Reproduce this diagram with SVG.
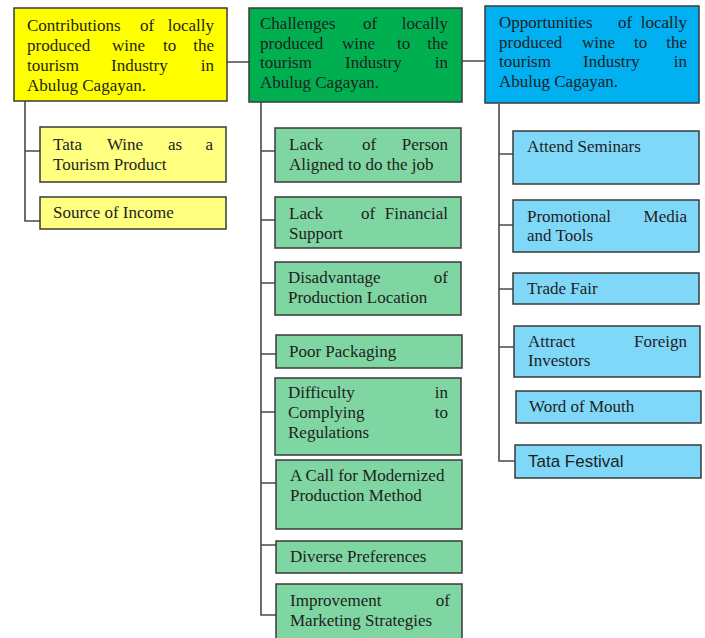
<svg xmlns="http://www.w3.org/2000/svg" width="705" height="638" viewBox="0 0 705 638">
<style>
text{font-family:"Liberation Serif","Times New Roman",serif;font-size:17px;fill:#1e1e1e}
.e{text-anchor:end}
.sans{font-family:"Liberation Sans",Arial,sans-serif}
rect{stroke:#3a3a3a;stroke-width:1.5}
.yh{fill:#FFFF00}.yc{fill:#FFFF80}
.gh{fill:#00B050}.gc{fill:#7FD6A2}
.bh{fill:#00B0F0}.bc{fill:#80D8F8}
#connectors path{fill:none;stroke:#4a4a4a;stroke-width:1.6}
</style>
<rect width="705" height="638" fill="#fff" style="stroke:none"/>
<g id="connectors">
<path d="M227 62H249M462 61H485"/>
<path d="M25 101V221H40M25 151H40"/>
<path d="M261 102V615H276M261 151H275M261 220H275M261 283H275M261 354H276M261 412H276M261 483H276M261 545H276"/>
<path d="M499 104V461H515M499 154H513M499 225H513M499 289H513M499 347H514"/>
</g>
<g id="h1"><rect class="yh" x="14" y="8" width="213" height="93"/>
<text x="27" y="31">Contributions</text><text x="140" y="31">of</text><text class="e" x="214" y="31">locally</text>
<text x="27" y="51">produced</text><text x="112" y="51">wine</text><text x="163" y="51">to</text><text class="e" x="214" y="51">the</text>
<text x="27" y="71">tourism</text><text x="111" y="71">Industry</text><text class="e" x="214" y="71">in</text>
<text x="27" y="91">Abulug Cagayan.</text></g>
<g id="h2"><rect class="gh" x="249" y="8" width="213" height="94"/>
<text x="260" y="29">Challenges</text><text x="363" y="29">of</text><text class="e" x="448" y="29">locally</text>
<text x="260" y="49">produced</text><text x="342" y="49">wine</text><text x="397" y="49">to</text><text class="e" x="448" y="49">the</text>
<text x="260" y="68">tourism</text><text x="345" y="68">Industry</text><text class="e" x="448" y="68">in</text>
<text x="260" y="88">Abulug Cagayan.</text></g>
<g id="h3"><rect class="bh" x="485" y="6" width="214" height="97"/>
<text x="499" y="28">Opportunities</text><text x="618" y="28">of</text><text class="e" x="687" y="28">locally</text>
<text x="499" y="48">produced</text><text x="582" y="48">wine</text><text x="634" y="48">to</text><text class="e" x="687" y="48">the</text>
<text x="499" y="67">tourism</text><text x="583" y="67">Industry</text><text class="e" x="687" y="67">in</text>
<text x="499" y="87">Abulug Cagayan.</text></g>
<g id="c1"><rect class="yc" x="40" y="127" width="186" height="55"/>
<text x="53" y="150">Tata</text><text x="107" y="150">Wine</text><text x="168" y="150">as</text><text class="e" x="213" y="150">a</text>
<text x="53" y="170">Tourism Product</text></g>
<g id="c2"><rect class="yc" x="40" y="197" width="186" height="32"/>
<text x="53" y="218">Source of Income</text></g>
<g id="g1"><rect class="gc" x="275" y="128" width="186" height="54"/>
<text x="289" y="150">Lack</text><text x="362" y="150">of</text><text class="e" x="448" y="150">Person</text>
<text x="289" y="170">Aligned to do the job</text></g>
<g id="g2"><rect class="gc" x="275" y="197" width="186" height="51"/>
<text x="289" y="219">Lack</text><text x="361" y="219">of</text><text class="e" x="448" y="219">Financial</text>
<text x="289" y="239">Support</text></g>
<g id="g3"><rect class="gc" x="275" y="262" width="186" height="53"/>
<text x="288" y="283">Disadvantage</text><text class="e" x="448" y="283">of</text>
<text x="288" y="303">Production Location</text></g>
<g id="g4"><rect class="gc" x="276" y="335" width="186" height="33"/>
<text x="289" y="357">Poor Packaging</text></g>
<g id="g5"><rect class="gc" x="275" y="378" width="186" height="77"/>
<text x="288" y="398">Difficulty</text><text class="e" x="448" y="398">in</text>
<text x="288" y="418">Complying</text><text class="e" x="448" y="418">to</text>
<text x="288" y="438">Regulations</text></g>
<g id="g6"><rect class="gc" x="276" y="460" width="186" height="69"/>
<text x="290" y="481">A Call for Modernized</text>
<text x="290" y="501">Production Method</text></g>
<g id="g7"><rect class="gc" x="276" y="541" width="186" height="32"/>
<text x="290" y="562">Diverse Preferences</text></g>
<g id="g8"><rect class="gc" x="276" y="584" width="186" height="60"/>
<text x="290" y="606">Improvement</text><text class="e" x="450" y="606">of</text>
<text x="290" y="626">Marketing Strategies</text></g>
<g id="b1"><rect class="bc" x="513" y="131" width="186" height="53"/>
<text x="527" y="152">Attend Seminars</text></g>
<g id="b2"><rect class="bc" x="513" y="200" width="186" height="52"/>
<text x="527" y="222">Promotional</text><text class="e" x="687" y="222">Media</text>
<text x="527" y="241">and Tools</text></g>
<g id="b3"><rect class="bc" x="513" y="273" width="186" height="31"/>
<text x="527" y="294">Trade Fair</text></g>
<g id="b4"><rect class="bc" x="514" y="326" width="186" height="51"/>
<text x="528" y="347">Attract</text><text class="e" x="687" y="347">Foreign</text>
<text x="528" y="366">Investors</text></g>
<g id="b5"><rect class="bc" x="516" y="391" width="185" height="32"/>
<text x="529" y="412">Word of Mouth</text></g>
<g id="b6"><rect class="bc" x="515" y="445" width="186" height="33"/>
<text class="sans" x="528" y="467">Tata Festival</text></g>
</svg>
